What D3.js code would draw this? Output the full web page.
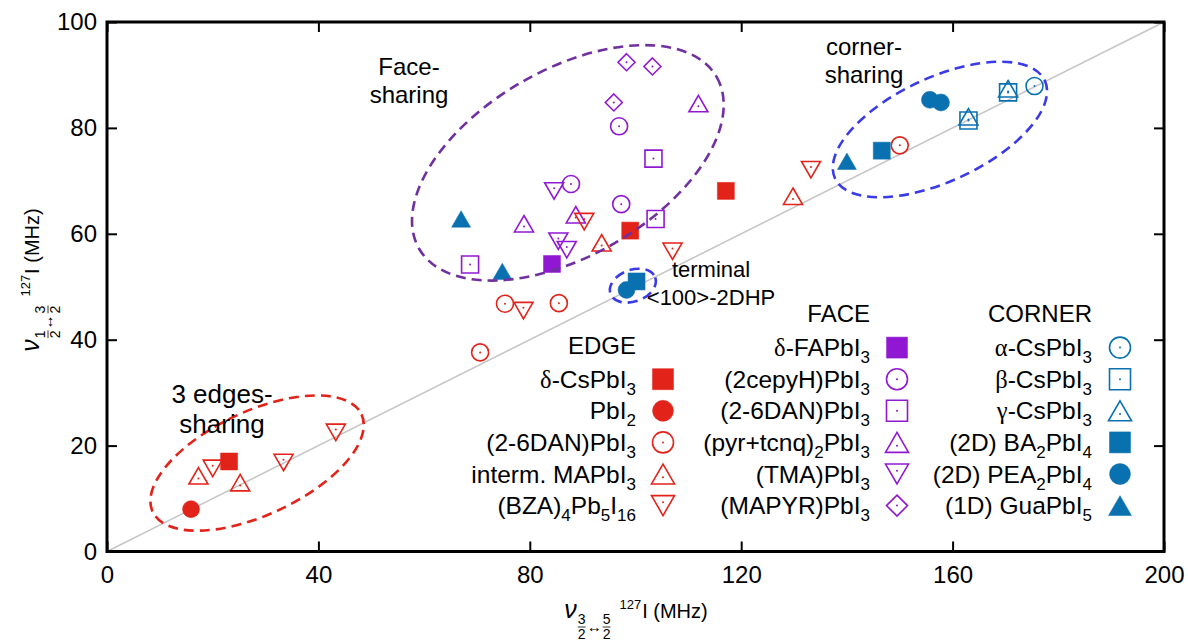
<!DOCTYPE html>
<html>
<head>
<meta charset="utf-8">
<script src="https://cdn.jsdelivr.net/npm/d3@7"></script>
<style>
body { margin: 0; background: #fff; }
text { font-family: "Liberation Sans", Arial, sans-serif; }
</style>
</head>
<body>
<svg id="chart" width="1188" height="644"></svg>
<script>
//////////////////////////////////////////////////////////////////////////////
// Data: x = nu(3/2<->5/2), y = nu(1/2<->3/2), both 127I in MHz

var xTicks = [0, 40, 80, 120, 160, 200];
var yTicks = [0, 20, 40, 60, 80, 100];
var diagonal = [[0, 0], [200, 100]];

// EDGE
var edgeCsPbI3 = [[23.1, 17.0], [99.0, 60.6], [117.1, 68.1]];
var edgePbI2 = [[15.9, 8.0]];
var edgeDAN = [[70.6, 37.6], [75.3, 46.8], [85.5, 46.9], [150.0, 76.7]];
var edgeMAPbI3 = [[17.3, 14.3], [25.2, 13.0], [93.6, 58.3], [129.8, 67.1]];
var edgeBZA = [[20.0, 15.7], [33.4, 16.8], [43.3, 22.5], [78.8, 45.5], [90.3, 62.3], [107.0, 56.7], [133.2, 72.1]];

// FACE
var faceFAPbI3 = [[84.2, 54.3]];
var faceCepyH = [[96.9, 80.3], [87.8, 69.4], [97.3, 65.6]];
var faceDAN = [[103.4, 74.2], [103.8, 62.8], [68.7, 54.2]];
var facePyr = [[111.9, 84.6], [78.9, 61.9], [88.7, 63.6]];
var faceTMA = [[84.6, 68.1], [85.4, 58.6], [87.0, 57.0]];
var faceMAPYR = [[98.3, 92.4], [103.2, 91.6], [95.9, 84.8]];

// CORNER
var cornerAlpha = [[175.5, 87.9]];
var cornerBeta = [[163.0, 81.4], [170.5, 86.7]];
var cornerGamma = [[163.0, 82.1], [170.5, 87.4]];
var cornerBA = [[146.6, 75.7], [100.2, 51.0]];
var cornerPEA = [[155.7, 85.3], [157.8, 84.8], [98.3, 49.4]];
var cornerGua = [[140.0, 73.7], [67.0, 62.8], [74.8, 52.9]];

// dashed groupings: centre (data units), radii (x units), tilt (deg)
var ellipseEdge = [28.4, 16.7, 21.8, 9.8, -25];
var ellipseFace = [87.2, 73.4, 32.5, 17.6, -30];
var ellipseCorner = [157.6, 79.7, 21.9, 9.8, -25];
var ellipseTerminal = [99.5, 50.2, 4.5, 3.0, -20];

var RED = "#e2231a", PURPLE = "#9018d2", BLUE = "#0a71b1";

var series = [
    {col: 0, label: "δ-CsPbI_3", shape: "square", fill: true, color: RED, data: edgeCsPbI3},
    {col: 0, label: "PbI_2", shape: "circle", fill: true, color: RED, data: edgePbI2},
    {col: 0, label: "(2-6DAN)PbI_3", shape: "circle", fill: false, color: RED, data: edgeDAN},
    {col: 0, label: "interm. MAPbI_3", shape: "up", fill: false, color: RED, data: edgeMAPbI3},
    {col: 0, label: "(BZA)_4Pb_5I_16", shape: "down", fill: false, color: RED, data: edgeBZA},
    {col: 1, label: "δ-FAPbI_3", shape: "square", fill: true, color: PURPLE, data: faceFAPbI3},
    {col: 1, label: "(2cepyH)PbI_3", shape: "circle", fill: false, color: PURPLE, data: faceCepyH},
    {col: 1, label: "(2-6DAN)PbI_3", shape: "square", fill: false, color: PURPLE, data: faceDAN},
    {col: 1, label: "(pyr+tcnq)_2PbI_3", shape: "up", fill: false, color: PURPLE, data: facePyr},
    {col: 1, label: "(TMA)PbI_3", shape: "down", fill: false, color: PURPLE, data: faceTMA},
    {col: 1, label: "(MAPYR)PbI_3", shape: "diamond", fill: false, color: PURPLE, data: faceMAPYR},
    {col: 2, label: "α-CsPbI_3", shape: "circle", fill: false, color: BLUE, data: cornerAlpha},
    {col: 2, label: "β-CsPbI_3", shape: "square", fill: false, color: BLUE, data: cornerBeta},
    {col: 2, label: "γ-CsPbI_3", shape: "up", fill: false, color: BLUE, data: cornerGamma},
    {col: 2, label: "(2D) BA_2PbI_4", shape: "square", fill: true, color: BLUE, data: cornerBA},
    {col: 2, label: "(2D) PEA_2PbI_4", shape: "circle", fill: true, color: BLUE, data: cornerPEA},
    {col: 2, label: "(1D) GuaPbI_5", shape: "up", fill: true, color: BLUE, data: cornerGua}
];

var legendCols = [
    {title: "EDGE", textX: 636, markX: 663, firstRow: 1},
    {title: "FACE", textX: 870, markX: 897, firstRow: 0},
    {title: "CORNER", textX: 1092, markX: 1120, firstRow: 0}
];

//////////////////////////////////////////////////////////////////////////////
// Scales and frame

var svg = d3.select("#chart");
var x = d3.scaleLinear().domain([0, 200]).range([107, 1164]);
var y = d3.scaleLinear().domain([0, 100]).range([551.5, 22]);

function styleAxis(g) {
    g.select(".domain").remove();
    g.selectAll(".tick line").attr("stroke", "#000").attr("stroke-width", 2);
    g.selectAll("text")
        .attr("fill", "#000")
        .attr("font-size", 24)
        .attr("font-family", "Liberation Sans, Arial, sans-serif");
}
function mirrorAxis(g) {
    styleAxis(g);
    g.selectAll("text").remove();
}

svg.append("line")
    .attr("x1", x(diagonal[0][0])).attr("y1", y(diagonal[0][1]))
    .attr("x2", x(diagonal[1][0])).attr("y2", y(diagonal[1][1]))
    .attr("stroke", "#c6c6c6").attr("stroke-width", 1.5);

svg.append("g").attr("transform", "translate(0," + y(0) + ")")
    .call(d3.axisBottom(x).tickValues(xTicks).tickSize(-10).tickPadding(14))
    .call(styleAxis);
svg.append("g").attr("transform", "translate(" + x(0) + ",0)")
    .call(d3.axisLeft(y).tickValues(yTicks).tickSize(-10).tickPadding(10))
    .call(styleAxis);
svg.append("g").attr("transform", "translate(0," + y(100) + ")")
    .call(d3.axisTop(x).tickValues(xTicks).tickSize(-10))
    .call(mirrorAxis);
svg.append("g").attr("transform", "translate(" + x(200) + ",0)")
    .call(d3.axisRight(y).tickValues(yTicks).tickSize(-10))
    .call(mirrorAxis);

svg.append("rect")
    .attr("x", x(0)).attr("y", y(100))
    .attr("width", x(200) - x(0)).attr("height", y(0) - y(100))
    .attr("fill", "none").attr("stroke", "#000").attr("stroke-width", 3);

//////////////////////////////////////////////////////////////////////////////
// Markers

function symbolPath(shape, s) {
    var h = s / 2, t = s * 0.866 / 2;
    if (shape == "square") return "M" + (-h) + "," + (-h) + "h" + s + "v" + s + "h" + (-s) + "Z";
    if (shape == "circle") return "M" + h + ",0A" + h + "," + h + " 0 1,1 " + (-h) + ",0A" + h + "," + h + " 0 1,1 " + h + ",0Z";
    if (shape == "up") return "M0," + (-t) + "L" + h + "," + t + "L" + (-h) + "," + t + "Z";
    if (shape == "down") return "M0," + t + "L" + h + "," + (-t) + "L" + (-h) + "," + (-t) + "Z";
    return "M0," + (-h) + "L" + h + ",0L0," + h + "L" + (-h) + ",0Z";
}

function markerSize(shape, big) {
    var s = (shape == "up" || shape == "down") ? 19 : 17;
    return big ? s + 4 : s;
}

function drawMarker(g, d, big) {
    var s = markerSize(d.shape, big);
    g.append("path")
        .attr("d", symbolPath(d.shape, s))
        .attr("fill", d.fill ? d.color : "none")
        .attr("stroke", d.color)
        .attr("stroke-width", d.fill ? 0.5 : 1.6);
    if (!d.fill) {
        var dy = d.shape == "up" ? s * 0.866 / 6 : d.shape == "down" ? -s * 0.866 / 6 : 0;
        g.append("circle").attr("cx", 0).attr("cy", dy).attr("r", 1).attr("fill", d.color);
    }
}

var order = [1, 0, 2];   // face, edge, corner
order.forEach(function(c) {
    series.filter(function(d) { return d.col == c; }).forEach(function(d) {
        svg.append("g")
            .selectAll("g")
            .data(d.data)
            .enter()
            .append("g")
            .attr("transform", function(p) { return "translate(" + x(p[0]) + "," + y(p[1]) + ")"; })
            .each(function() { drawMarker(d3.select(this), d, false); });
    });
});

//////////////////////////////////////////////////////////////////////////////
// Dashed groupings

[[ellipseEdge, RED], [ellipseFace, "#7030a0"], [ellipseCorner, "#3a3ae6"], [ellipseTerminal, "#3a3ae6"]]
    .forEach(function(e) {
        var p = e[0], cx = x(p[0]), cy = y(p[1]);
        svg.append("ellipse")
            .attr("cx", cx).attr("cy", cy)
            .attr("rx", x(p[2]) - x(0)).attr("ry", x(p[3]) - x(0))
            .attr("transform", "rotate(" + p[4] + "," + cx + "," + cy + ")")
            .attr("fill", "none").attr("stroke", e[1])
            .attr("stroke-width", 2.6).attr("stroke-dasharray", "10,6");
    });

//////////////////////////////////////////////////////////////////////////////
// Text annotations

function twoLines(lines, cx, y0, gap, font, size) {
    lines.forEach(function(s, i) {
        svg.append("text")
            .attr("x", cx).attr("y", y0 + i * gap)
            .attr("text-anchor", "middle")
            .attr("font-family", font).attr("font-size", size)
            .text(s);
    });
}
twoLines(["Face-", "sharing"], 409, 75, 28, "Liberation Sans", 24);
twoLines(["corner-", "sharing"], 864, 55, 28, "Liberation Sans", 24);
twoLines(["3 edges-", "sharing"], 222, 403, 30, "Liberation Sans", 26);
twoLines(["terminal", "<100>-2DHP"], 711, 277, 28, "Lato", 22);

//////////////////////////////////////////////////////////////////////////////
// Legend

var rowY = function(k) { return 316 + 31.6 * k; };

function richLabel(t, label) {
    var shift = 0;
    label.split(/(_\d+)/).forEach(function(part) {
        if (!part) return;
        if (part[0] == "_") {
            t.append("tspan").attr("dy", 7 - shift).attr("font-size", 17).text(part.slice(1));
            shift = 7;
        } else {
            part.split(/([αβγδ])/).forEach(function(q) {
                if (!q) return;
                var ts = t.append("tspan").text(q);
                if (shift) { ts.attr("dy", -shift); shift = 0; }
                if (/[αβγδ]/.test(q)) ts.attr("font-family", "Liberation Serif");
            });
        }
    });
}

legendCols.forEach(function(c, ci) {
    svg.append("text")
        .attr("x", c.textX).attr("y", rowY(c.firstRow) + 6)
        .attr("text-anchor", "end").attr("font-size", 24)
        .text(c.title);
    series.filter(function(d) { return d.col == ci; }).forEach(function(d, i) {
        var r = rowY(c.firstRow + 1 + i);
        var t = svg.append("text")
            .attr("x", c.textX).attr("y", r + 8.5)
            .attr("text-anchor", "end").attr("font-size", 24.5);
        richLabel(t, d.label);
        var g = svg.append("g").attr("transform", "translate(" + c.markX + "," + r + ")");
        drawMarker(g, d, true);
    });
});

//////////////////////////////////////////////////////////////////////////////
// Axis titles: nu_{a<->b} 127I (MHz)

function axisTitle(g, lo, hi) {
    var cx = 0, fs = 20, sf = 14;
    var nu = g.append("text").attr("x", cx).attr("y", 0)
        .attr("font-family", "Liberation Serif").attr("font-style", "italic")
        .attr("font-size", 25).text("ν");
    cx += nu.node().getComputedTextLength() + 1;
    function frac(n) {
        var a = g.append("text").attr("x", cx).attr("y", 6).attr("font-size", sf).text(n);
        var w = a.node().getComputedTextLength();
        g.append("line").attr("x1", cx).attr("x2", cx + w).attr("y1", 9).attr("y2", 9)
            .attr("stroke", "#000").attr("stroke-width", 0.8);
        g.append("text").attr("x", cx).attr("y", 21).attr("font-size", sf).text("2");
        cx += w + 1;
    }
    frac(lo);
    var arr = g.append("text").attr("x", cx).attr("y", 14)
        .attr("font-family", "DejaVu Sans").attr("font-size", 15).text("↔");
    cx += arr.node().getComputedTextLength() + 1;
    frac(hi);
    cx += 8;
    var sup = g.append("text").attr("x", cx).attr("y", -9).attr("font-size", 13).text("127");
    cx += sup.node().getComputedTextLength() + 1;
    var main = g.append("text").attr("x", cx).attr("y", 0).attr("font-size", fs).text("I (MHz)");
    cx += main.node().getComputedTextLength();
    return cx;
}

var gx = svg.append("g");
var wx = axisTitle(gx, "3", "5");
gx.attr("transform", "translate(" + (636 - wx / 2) + ",618)");

var gy = svg.append("g");
var wy = axisTitle(gy, "1", "3");
gy.attr("transform", "translate(39," + (280 + wy / 2) + ") rotate(-90)");
</script>
</body>
</html>
